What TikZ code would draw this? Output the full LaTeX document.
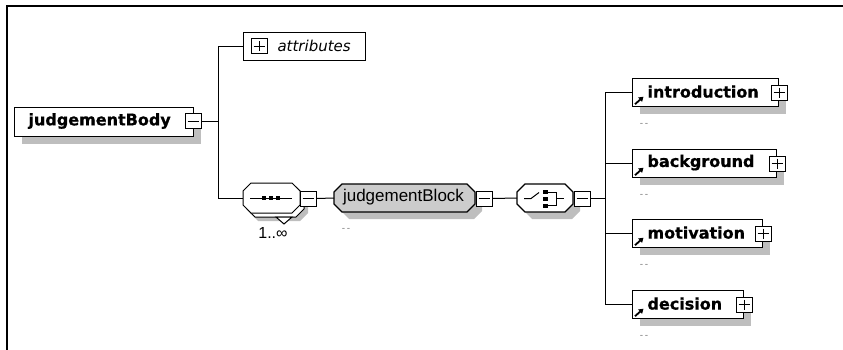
\documentclass[tikz,border=0pt]{standalone}
\usepackage{fontspec}
\setmainfont{Liberation Sans}
\newfontfamily\dvs{DejaVu Sans}
\newfontfamily\dvsb{DejaVu Sans Bold}[FakeBold=0.8]
\usetikzlibrary{shadows,arrows.meta}
\definecolor{shd}{HTML}{BEBEBE}
\definecolor{blkfill}{HTML}{CCCCCC}
\definecolor{dashgray}{HTML}{808080}
\newcommand{\octo}[6]{\path[#6] ({#1+#5},#2) -- ({#3-#5},#2) -- (#3,{#2+#5}) -- (#3,{#4-#5}) -- ({#3-#5},#4) -- ({#1+#5},#4) -- (#1,{#4-#5}) -- (#1,{#2+#5}) -- cycle;}
\begin{document}
\begin{tikzpicture}[x=1pt,y=-1pt,line width=1pt,
  pm/.style={draw=black,fill=white,minimum width=16pt,minimum height=15pt,inner sep=0pt,line width=1pt},
  elem/.style={draw=black,fill=white,minimum height=28pt,inner sep=0pt,anchor=north west,line width=1.2pt,
     drop shadow={shadow xshift=7pt,shadow yshift=-7pt,fill=shd,opacity=1}},
  ghost/.style={inner sep=0pt,outer sep=0pt},
  boldlbl/.style={inner sep=0pt,anchor=west,font=\dvsb\fontsize{16}{16}\selectfont},
  dashlbl/.style={inner sep=0pt,text=dashgray,font=\fontsize{10}{10}\selectfont},
  refarrow/.style={line width=1.8pt,-{Triangle[length=4.5pt,width=5.5pt]}},
  conn/.style={line width=1pt}]
\useasboundingbox (0,0) rectangle (843,350);
% frame
\draw[line width=1.2pt] (7,360) -- (7,6) -- (850,6);

% judgementBody
\node[elem,minimum width=179pt,minimum height=29pt] (jb) at (14,107) {};
\node[boldlbl] (jbt) at (28,121) {judgementBody};
\node[pm] (jbm) at (193,121.5) {};
\draw ([xshift=3pt]jbm.west) -- ([xshift=-3pt]jbm.east);

% attributes
\node[draw=black,fill=white,minimum width=122pt,minimum height=28pt,inner sep=0pt,anchor=north west,line width=1.2pt] (attr) at (243,32) {};
\node[pm] (attrp) at (259,46.5) {};
\draw ([xshift=3pt]attrp.west) -- ([xshift=-3pt]attrp.east);
\draw ([yshift=-3pt]attrp.north) -- ([yshift=3pt]attrp.south);
\node[inner sep=0pt,anchor=west,font=\dvs\itshape\fontsize{15}{15}\selectfont] (attrt) at (277,46) {attributes};

% sequence (with multiplicity)
\octo{250}{191}{308}{221}{8}{fill=shd}
\octo{247}{187}{304}{217}{8}{draw=black,fill=white}
\draw[fill=white] (276,217) -- (292,217) -- (284,224) -- cycle;
\octo{243}{183}{300}{213}{8}{draw=black,fill=white}
\node[ghost,minimum width=57pt,minimum height=30pt] (seq) at (271.5,198) {};
\draw (250,198) -- (292,198);
\fill (262,196) rectangle (266,200);
\fill (269,196) rectangle (273,200);
\fill (276,196) rectangle (280,200);
\node[pm] (seqm) at (308,198.5) {};
\draw ([xshift=3pt]seqm.west) -- ([xshift=-3pt]seqm.east);
\node[inner sep=0pt,font=\fontsize{16}{16}\selectfont] (mult) at (273,233) {1..∞};

% judgementBlock
\octo{341}{191}{482}{219}{8}{fill=shd}
\octo{334}{184}{475}{212}{8}{draw=black,fill=blkfill,line width=1.2pt}
\node[ghost,minimum width=141pt,minimum height=28pt] (blk) at (404.5,198) {};
\node[inner sep=0pt,font=\fontsize{17}{17}\selectfont] (blkt) at (403.5,197.5) {judgementBlock};
\node[pm] (blkm) at (484,198.5) {};
\draw ([xshift=3pt]blkm.west) -- ([xshift=-3pt]blkm.east);
\node[dashlbl] (blkd) at (346,230) {{-}\,{-}};

% choice
\octo{524}{191}{580}{219}{8}{fill=shd}
\octo{517}{184}{573}{212}{8}{draw=black,fill=white,line width=1.2pt}
\node[ghost,minimum width=56pt,minimum height=28pt] (ch) at (545,198) {};
\draw (524,198.5) -- (531,198.5) -- (539,192.5);
\fill (542.5,189.5) rectangle (547.5,194);
\fill (542.5,196.5) rectangle (547.5,201);
\fill (542.5,203.5) rectangle (547.5,208);
\draw (547.5,192) -- (556,192) -- (556,205.5) -- (547.5,205.5);
\draw (556,198.5) -- (564,198.5);
\node[pm] (chm) at (582,198.5) {};
\draw ([xshift=3pt]chm.west) -- ([xshift=-3pt]chm.east);

% child elements
\node[elem,minimum width=146pt] (intro) at (632,78) {};
\node[elem,minimum width=144pt] (bg) at (632,149) {};
\node[elem,minimum width=130pt] (mot) at (632,219) {};
\node[elem,minimum width=111pt] (dec) at (632,290) {};
\foreach \n/\t in {intro/introduction,bg/background,mot/motivation,dec/decision}{
  \node[boldlbl] (\n t) at ([xshift=15pt,yshift=1pt]\n.west) {\t};
  \node[pm] (\n p) at (\n.east) {};
  \draw ([xshift=3pt]\n p.west) -- ([xshift=-3pt]\n p.east);
  \draw ([yshift=-3pt]\n p.north) -- ([yshift=3pt]\n p.south);
  \draw[refarrow] ([xshift=3pt,yshift=3pt]\n.south west) -- ([xshift=11.5pt,yshift=10.5pt]\n.south west);
  \node[dashlbl] (\n d) at ([xshift=12pt,yshift=-18pt]\n.south west) {{-}\,{-}};
}

% connectors
\coordinate (v1) at (218,0);
\coordinate (v2) at (605,0);
\draw[conn] (jbm.east) -- (jbm.east -| v1);
\draw[conn] (attr.west -| v1) -- (seq.west -| v1);
\draw[conn] (attr.west -| v1) -- (attr.west);
\draw[conn] (seq.west -| v1) -- (seq.west);
\draw[conn] (seqm.east) -- (blk.west);
\draw[conn] (blkm.east) -- (ch.west);
\draw[conn] (chm.east) -- (chm.east -| v2);
\draw[conn] (intro.west -| v2) -- (dec.west -| v2);
\foreach \n in {intro,bg,mot,dec}{\draw[conn] (\n.west -| v2) -- (\n.west);}
\end{tikzpicture}
\end{document}
